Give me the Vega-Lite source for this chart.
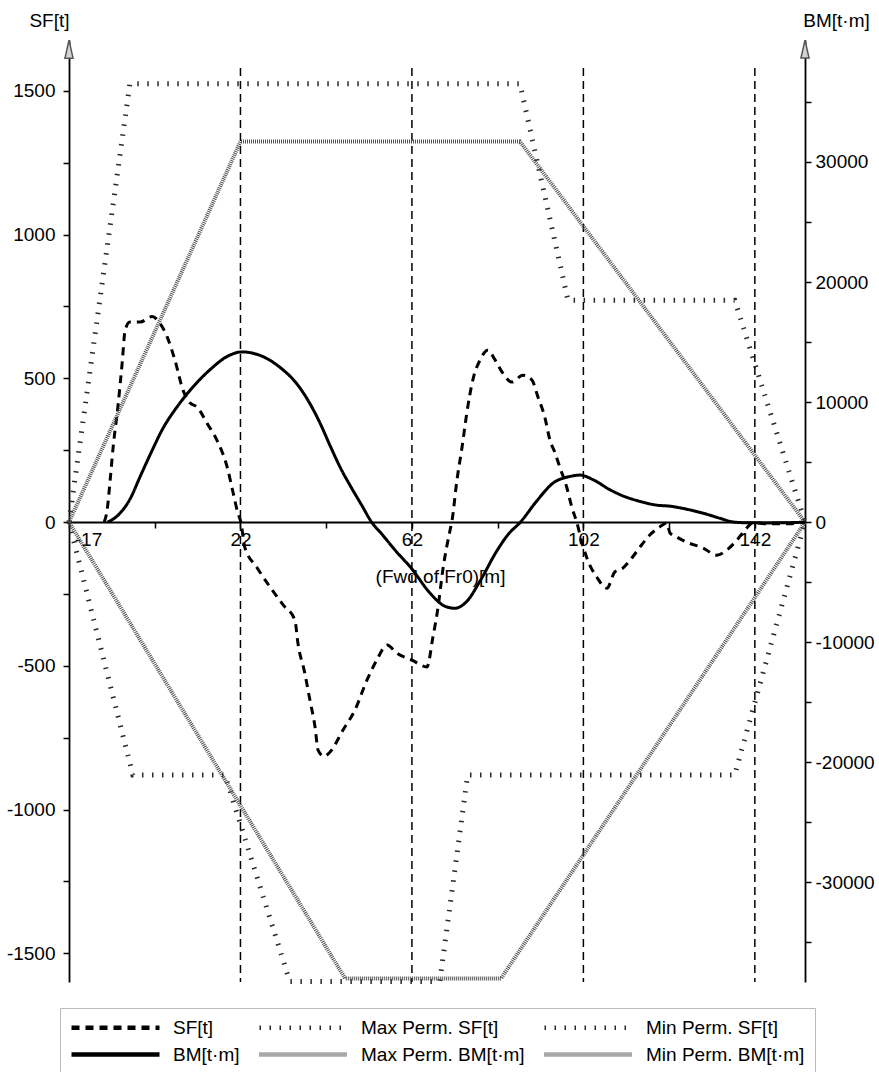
{
  "$schema": "https://vega.github.io/schema/vega-lite/v6.json",
  "autosize": {"type": "none"},
  "width": 736,
  "height": 942,
  "padding": {"left": 69, "top": 40, "right": 74, "bottom": 90},
  "background": "white",
  "config": {
    "view": {"stroke": null},
    "font": "Liberation Sans",
    "axis": {
      "labelFont": "Liberation Sans", "labelFontSize": 19, "labelColor": "black",
      "titleFont": "Liberation Sans", "titleFontSize": 19, "titleFontWeight": "normal", "titleColor": "black",
      "domainColor": "black", "domainWidth": 1.8, "tickColor": "black", "tickWidth": 1.5, "tickSize": 6,
      "grid": false, "labelOverlap": false, "labelFlush": false
    }
  },
  "datasets": {
    "curves": [
      {"s":"SF[t]","m":-9.8,"v":0},{"s":"SF[t]","m":-9.1,"v":42},{"s":"SF[t]","m":-8.4,"v":146},{"s":"SF[t]","m":-7.7,"v":261},{"s":"SF[t]","m":-6.6,"v":400},{"s":"SF[t]","m":-5.6,"v":553},{"s":"SF[t]","m":-4.9,"v":668},{"s":"SF[t]","m":-3.8,"v":696},{"s":"SF[t]","m":-1.4,"v":696},{"s":"SF[t]","m":1.4,"v":715},{"s":"SF[t]","m":3.2,"v":692},{"s":"SF[t]","m":4.9,"v":644},{"s":"SF[t]","m":6.7,"v":564},{"s":"SF[t]","m":8.6,"v":459},{"s":"SF[t]","m":10.2,"v":415},{"s":"SF[t]","m":11.9,"v":400},{"s":"SF[t]","m":14.2,"v":344},{"s":"SF[t]","m":16.5,"v":285},{"s":"SF[t]","m":18.9,"v":191},{"s":"SF[t]","m":20.3,"v":101},{"s":"SF[t]","m":21.4,"v":31},{"s":"SF[t]","m":22.1,"v":0},{"s":"SF[t]","m":23.0,"v":-87},{"s":"SF[t]","m":25.8,"v":-157},{"s":"SF[t]","m":28.9,"v":-226},{"s":"SF[t]","m":32.0,"v":-289},{"s":"SF[t]","m":34.7,"v":-341},{"s":"SF[t]","m":35.4,"v":-421},{"s":"SF[t]","m":37.0,"v":-525},{"s":"SF[t]","m":38.2,"v":-619},{"s":"SF[t]","m":39.4,"v":-713},{"s":"SF[t]","m":40.1,"v":-793},{"s":"SF[t]","m":41.5,"v":-815},{"s":"SF[t]","m":42.9,"v":-800},{"s":"SF[t]","m":45.9,"v":-724},{"s":"SF[t]","m":48.7,"v":-654},{"s":"SF[t]","m":51.5,"v":-550},{"s":"SF[t]","m":53.8,"v":-480},{"s":"SF[t]","m":56.2,"v":-428},{"s":"SF[t]","m":58.5,"v":-456},{"s":"SF[t]","m":62.0,"v":-480},{"s":"SF[t]","m":65.5,"v":-504},{"s":"SF[t]","m":66.9,"v":-400},{"s":"SF[t]","m":68.1,"v":-296},{"s":"SF[t]","m":69.2,"v":-167},{"s":"SF[t]","m":70.9,"v":-28},{"s":"SF[t]","m":71.3,"v":0},{"s":"SF[t]","m":72.5,"v":146},{"s":"SF[t]","m":73.7,"v":261},{"s":"SF[t]","m":74.8,"v":379},{"s":"SF[t]","m":76.2,"v":494},{"s":"SF[t]","m":77.9,"v":564},{"s":"SF[t]","m":79.7,"v":598},{"s":"SF[t]","m":81.4,"v":564},{"s":"SF[t]","m":83.2,"v":518},{"s":"SF[t]","m":85.3,"v":487},{"s":"SF[t]","m":87.9,"v":511},{"s":"SF[t]","m":90.0,"v":494},{"s":"SF[t]","m":91.4,"v":435},{"s":"SF[t]","m":93.0,"v":365},{"s":"SF[t]","m":94.2,"v":285},{"s":"SF[t]","m":95.4,"v":240},{"s":"SF[t]","m":96.5,"v":191},{"s":"SF[t]","m":98.1,"v":122},{"s":"SF[t]","m":99.3,"v":52},{"s":"SF[t]","m":100.5,"v":-3},{"s":"SF[t]","m":101.7,"v":-73},{"s":"SF[t]","m":103.0,"v":-132},{"s":"SF[t]","m":105.1,"v":-191},{"s":"SF[t]","m":107.5,"v":-230},{"s":"SF[t]","m":109.3,"v":-174},{"s":"SF[t]","m":111.2,"v":-160},{"s":"SF[t]","m":113.3,"v":-125},{"s":"SF[t]","m":115.2,"v":-87},{"s":"SF[t]","m":117.5,"v":-45},{"s":"SF[t]","m":119.8,"v":-17},{"s":"SF[t]","m":121.5,"v":-3},{"s":"SF[t]","m":122.2,"v":-38},{"s":"SF[t]","m":123.8,"v":-52},{"s":"SF[t]","m":126.1,"v":-70},{"s":"SF[t]","m":129.9,"v":-90},{"s":"SF[t]","m":133.1,"v":-115},{"s":"SF[t]","m":135.5,"v":-97},{"s":"SF[t]","m":137.8,"v":-63},{"s":"SF[t]","m":140.1,"v":-21},{"s":"SF[t]","m":141.5,"v":-3},{"s":"SF[t]","m":145,"v":-6},{"s":"SF[t]","m":150,"v":-6},{"s":"SF[t]","m":153.7,"v":0},
      {"s":"BM[t·m]","m":-9.1,"v":0},{"s":"BM[t·m]","m":-7.5,"v":300},{"s":"BM[t·m]","m":-6.1,"v":750},{"s":"BM[t·m]","m":-3.8,"v":1900},{"s":"BM[t·m]","m":-1.4,"v":3800},{"s":"BM[t·m]","m":0.9,"v":5600},{"s":"BM[t·m]","m":3.9,"v":7800},{"s":"BM[t·m]","m":7.2,"v":9600},{"s":"BM[t·m]","m":10.9,"v":11250},{"s":"BM[t·m]","m":14.9,"v":12700},{"s":"BM[t·m]","m":18.9,"v":13800},{"s":"BM[t·m]","m":22.3,"v":14180},{"s":"BM[t·m]","m":26.5,"v":13900},{"s":"BM[t·m]","m":31.2,"v":12900},{"s":"BM[t·m]","m":35.2,"v":11500},{"s":"BM[t·m]","m":38,"v":10000},{"s":"BM[t·m]","m":40.5,"v":8300},{"s":"BM[t·m]","m":43,"v":6300},{"s":"BM[t·m]","m":45.5,"v":4400},{"s":"BM[t·m]","m":48,"v":2800},{"s":"BM[t·m]","m":50.3,"v":1400},{"s":"BM[t·m]","m":52.6,"v":0},{"s":"BM[t·m]","m":55,"v":-1000},{"s":"BM[t·m]","m":58,"v":-2300},{"s":"BM[t·m]","m":62,"v":-3900},{"s":"BM[t·m]","m":66.2,"v":-5900},{"s":"BM[t·m]","m":69.7,"v":-7000},{"s":"BM[t·m]","m":72,"v":-7170},{"s":"BM[t·m]","m":74.8,"v":-6600},{"s":"BM[t·m]","m":77.9,"v":-4900},{"s":"BM[t·m]","m":81.8,"v":-2400},{"s":"BM[t·m]","m":84.5,"v":-1000},{"s":"BM[t·m]","m":87.3,"v":0},{"s":"BM[t·m]","m":91.2,"v":1800},{"s":"BM[t·m]","m":94.9,"v":3250},{"s":"BM[t·m]","m":98.8,"v":3800},{"s":"BM[t·m]","m":101.2,"v":3920},{"s":"BM[t·m]","m":104.2,"v":3550},{"s":"BM[t·m]","m":108.2,"v":2700},{"s":"BM[t·m]","m":111.5,"v":2150},{"s":"BM[t·m]","m":114.5,"v":1800},{"s":"BM[t·m]","m":119.1,"v":1420},{"s":"BM[t·m]","m":122.2,"v":1330},{"s":"BM[t·m]","m":126.1,"v":1080},{"s":"BM[t·m]","m":129.9,"v":750},{"s":"BM[t·m]","m":133.8,"v":330},{"s":"BM[t·m]","m":136.9,"v":20},{"s":"BM[t·m]","m":140,"v":-50},{"s":"BM[t·m]","m":145,"v":-60},{"s":"BM[t·m]","m":150,"v":-40},{"s":"BM[t·m]","m":153.7,"v":0}
    ],
    "limits": [
      {"s":"Max Perm. SF[t]","m":-18,"v":0},{"s":"Max Perm. SF[t]","m":-3.8,"v":1525},{"s":"Max Perm. SF[t]","m":87.2,"v":1525},{"s":"Max Perm. SF[t]","m":98.4,"v":772},{"s":"Max Perm. SF[t]","m":137.3,"v":772},{"s":"Max Perm. SF[t]","m":153.7,"v":0},
      {"s":"Min Perm. SF[t]","m":-18,"v":0},{"s":"Min Perm. SF[t]","m":-3.1,"v":-880},{"s":"Min Perm. SF[t]","m":18.4,"v":-880},{"s":"Min Perm. SF[t]","m":33.5,"v":-1598},{"s":"Min Perm. SF[t]","m":68.5,"v":-1598},{"s":"Min Perm. SF[t]","m":75,"v":-880},{"s":"Min Perm. SF[t]","m":137.3,"v":-880},{"s":"Min Perm. SF[t]","m":153.7,"v":0},
      {"s":"Max Perm. BM[t·m]","m":-18,"v":0},{"s":"Max Perm. BM[t·m]","m":22,"v":31700},{"s":"Max Perm. BM[t·m]","m":87.2,"v":31700},{"s":"Max Perm. BM[t·m]","m":153.7,"v":0},
      {"s":"Min Perm. BM[t·m]","m":-18,"v":0},{"s":"Min Perm. BM[t·m]","m":46.4,"v":-38000},{"s":"Min Perm. BM[t·m]","m":82.8,"v":-38000},{"s":"Min Perm. BM[t·m]","m":153.7,"v":0}
    ],
    "frames": [{"m":22},{"m":62},{"m":102},{"m":142}]
  },
  "layer": [
    {
      "layer": [
        {
          "data": {"name": "limits"},
          "transform": [{"filter": "indexof(datum.s, 'SF') >= 0"}],
          "mark": {"type": "line", "strokeWidth": 5, "strokeCap": "butt"},
          "encoding": {
            "x": {"field": "m", "type": "quantitative", "scale": {"domain": [-18, 153.7], "nice": false, "zero": false},
              "axis": {
                "values": [-18, 2, 22, 42, 62, 82, 102, 122, 142],
                "labelExpr": "datum.value == -18 ? '-17' : ((datum.value - 22) % 40 == 0 ? '' + datum.value : '')",
                "offset": -460,
                "labelPadding": 2,
                "labelOffset": {"condition": {"test": "datum.value == -18", "value": 19}, "value": 0},
                "title": "(Fwd of Fr0)[m]",
                "titleX": 371, "titleY": 54, "titleAlign": "center", "titleBaseline": "middle"
              }},
            "y": {"field": "v", "type": "quantitative", "scale": {"domain": [-1600, 1677], "nice": false, "zero": false},
              "axis": {
                "orient": "left",
                "values": [-1500, -1250, -1000, -750, -500, -250, 0, 250, 500, 750, 1000, 1250, 1500],
                "labelExpr": "datum.value % 500 == 0 ? '' + datum.value : ''",
                "labelPadding": 8,
                "title": "SF[t]", "titleAngle": 0, "titleX": -20, "titleY": -20, "titleAlign": "center", "titleBaseline": "middle"
              }},
            "color": {"field": "s", "type": "nominal",
              "scale": {"domain": ["SF[t]", "Max Perm. SF[t]", "Min Perm. SF[t]", "BM[t·m]", "Max Perm. BM[t·m]", "Min Perm. BM[t·m]"],
                        "range": ["black", "#2a2a2a", "#2a2a2a", "black", "#505050", "#505050"]},
              "legend": {
                "title": null, "orient": "none", "legendX": -9, "legendY": 968, "columns": 3, "direction": "horizontal",
                "symbolType": "M-8,0H8", "symbolSize": 121, "symbolStrokeWidth": 4.5,
                "symbolOffset": 36, "labelOffset": 48,
                "labelFont": "Liberation Sans", "labelFontSize": 19, "labelColor": "black", "labelLimit": 400,
                "rowPadding": 7, "columnPadding": 10, "padding": 10,
                "strokeColor": "#bbbbbb", "fillColor": "white", "cornerRadius": 0
              }},
            "strokeDash": {"field": "s", "type": "nominal",
              "scale": {"domain": ["SF[t]", "Max Perm. SF[t]", "Min Perm. SF[t]", "BM[t·m]", "Max Perm. BM[t·m]", "Min Perm. BM[t·m]"],
                        "range": [[8, 6], [1.5, 8.5], [1.5, 8.5], [1, 0], [1, 1], [1, 1]]},
              "legend": {"title": null}}
          }
        },
        {
          "data": {"name": "frames"},
          "mark": {"type": "rule", "color": "black", "strokeWidth": 1.5, "strokeDash": [8, 5]},
          "encoding": {
            "x": {"field": "m", "type": "quantitative"},
            "y": {"datum": 1580, "type": "quantitative"},
            "y2": {"datum": -1600}
          }
        },
        {
          "data": {"name": "curves"},
          "transform": [{"filter": "datum.s == 'SF[t]'"}],
          "mark": {"type": "line", "strokeWidth": 3, "interpolate": "monotone", "strokeCap": "butt"},
          "encoding": {
            "x": {"field": "m", "type": "quantitative"},
            "y": {"field": "v", "type": "quantitative"},
            "color": {"field": "s", "type": "nominal"},
            "strokeDash": {"field": "s", "type": "nominal"}
          }
        },
        {
          "data": {"values": [{}]},
          "mark": {"type": "point", "shape": "M0,-1L0.45,1L-0.45,1Z", "size": 324, "filled": true, "fill": "#d4d4d4", "stroke": "#555555", "strokeWidth": 1.5, "opacity": 1},
          "encoding": {
            "x": {"datum": -18, "type": "quantitative"},
            "y": {"datum": 1645, "type": "quantitative"}
          }
        }
      ]
    },
    {
      "layer": [
        {
          "data": {"name": "limits"},
          "transform": [{"filter": "indexof(datum.s, 'BM') >= 0"}],
          "mark": {"type": "line", "strokeWidth": 4, "strokeCap": "butt"},
          "encoding": {
            "x": {"field": "m", "type": "quantitative"},
            "y": {"field": "v", "type": "quantitative", "scale": {"domain": [-38300, 40160], "nice": false, "zero": false},
              "axis": {
                "orient": "right",
                "values": [-35000, -30000, -25000, -20000, -15000, -10000, -5000, 0, 5000, 10000, 15000, 20000, 25000, 30000, 35000],
                "labelExpr": "datum.value % 10000 == 0 ? '' + datum.value : ''",
                "labelPadding": 4,
                "title": "BM[t·m]", "titleAngle": 0, "titleX": 31, "titleY": -20, "titleAlign": "center", "titleBaseline": "middle"
              }},
            "color": {"field": "s", "type": "nominal"},
            "strokeDash": {"field": "s", "type": "nominal"}
          }
        },
        {
          "data": {"name": "curves"},
          "transform": [{"filter": "datum.s == 'BM[t·m]'"}],
          "mark": {"type": "line", "strokeWidth": 3, "interpolate": "monotone"},
          "encoding": {
            "x": {"field": "m", "type": "quantitative"},
            "y": {"field": "v", "type": "quantitative"},
            "color": {"field": "s", "type": "nominal"},
            "strokeDash": {"field": "s", "type": "nominal"}
          }
        },
        {
          "data": {"values": [{}]},
          "mark": {"type": "point", "shape": "M0,-1L0.45,1L-0.45,1Z", "size": 324, "filled": true, "fill": "#d4d4d4", "stroke": "#555555", "strokeWidth": 1.5, "opacity": 1},
          "encoding": {
            "x": {"datum": 153.7, "type": "quantitative"},
            "y": {"datum": 39400, "type": "quantitative"}
          }
        }
      ]
    }
  ],
  "resolve": {"scale": {"y": "independent"}}
}
